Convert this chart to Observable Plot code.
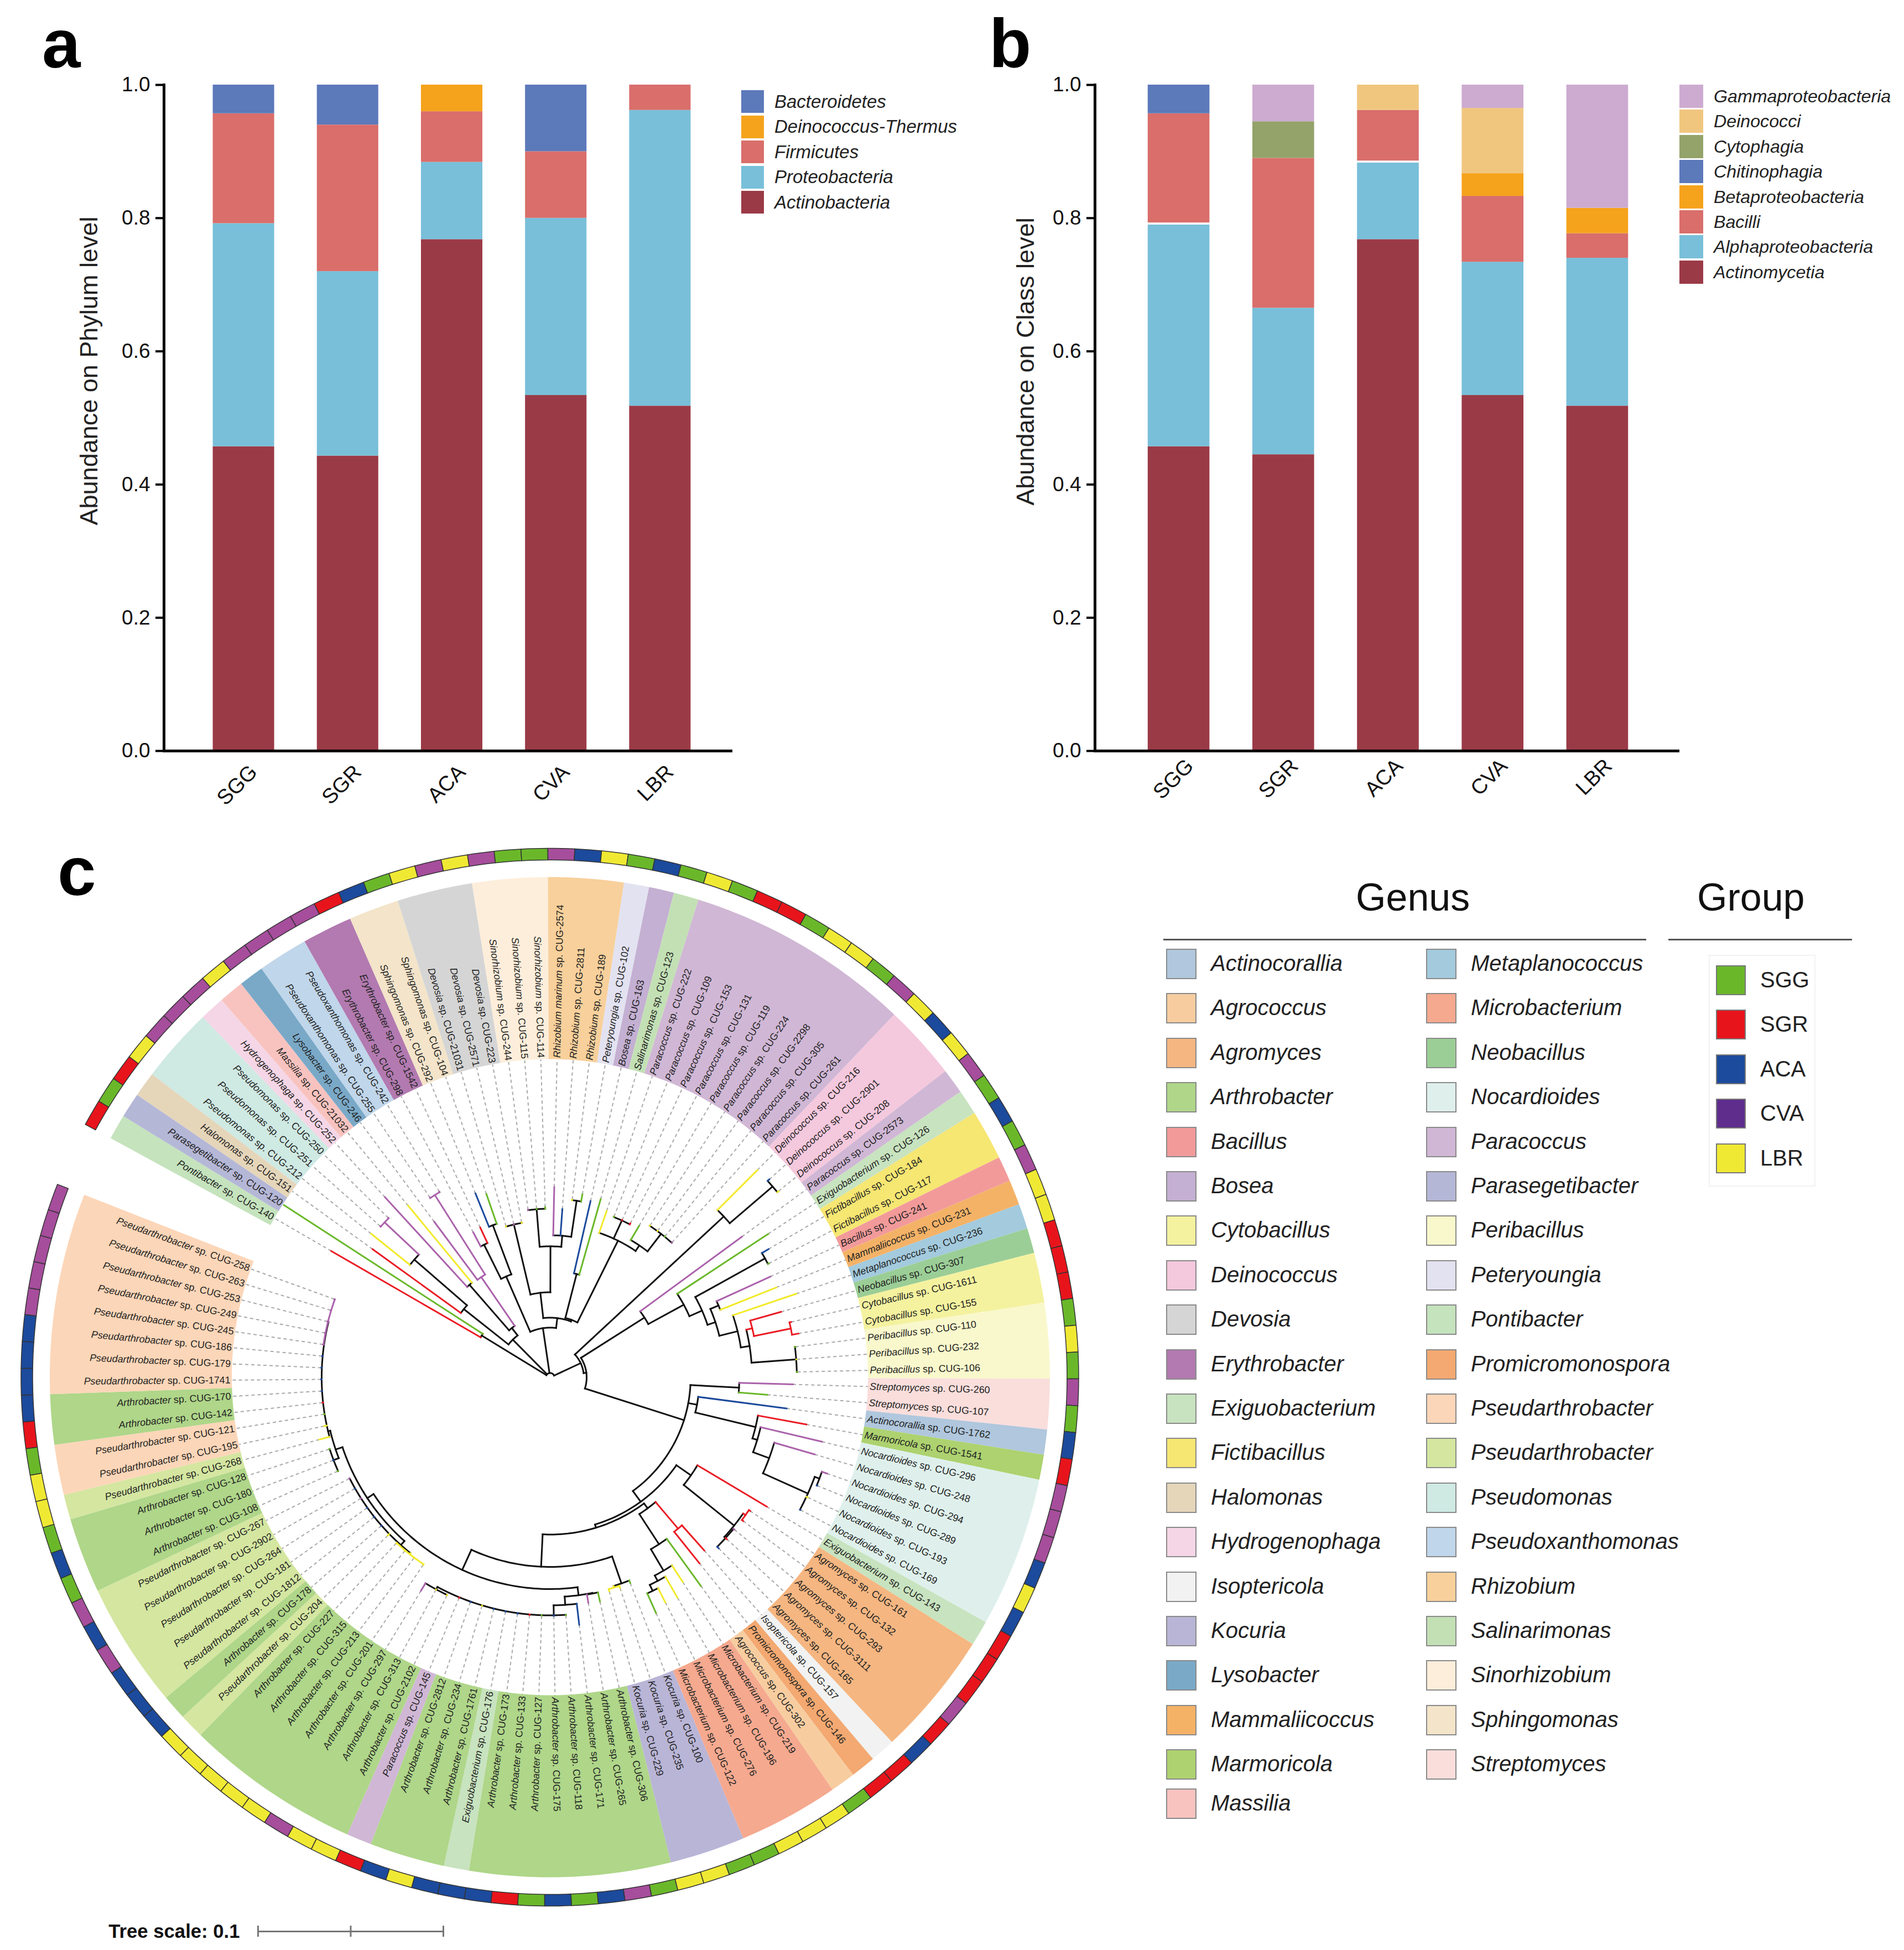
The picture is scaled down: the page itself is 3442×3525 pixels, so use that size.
<!DOCTYPE html>
<html><head><meta charset="utf-8">
<script src="https://cdn.jsdelivr.net/npm/d3@7"></script>
<script src="https://cdn.jsdelivr.net/npm/@observablehq/plot@0.6"></script>
<style>
html,body{margin:0;padding:0;background:#fff}
#page{position:relative;width:3442px;height:3525px;overflow:hidden;font-family:"Liberation Sans",Arial,sans-serif;color:#111}
#page svg{position:absolute}
.t{position:absolute;white-space:nowrap;transform:translateY(-50%)}
.s{position:absolute;box-sizing:border-box}
.panel{position:absolute;font-weight:bold;line-height:1;color:#000}
</style></head><body><div id="page"></div>
<script>
/* ---------- panels a, b ---------- */
const samples=["SGG","SGR","ACA","CVA","LBR"];
const actinobacteria=[.457,.443,.768,.534,.518];
const proteobacteria=[.335,.277,.116,.266,.444];
const firmicutes=[.165,.220,.076,.100,.038];
const deinococcusThermus=[0,0,.040,0,0];
const bacteroidetes=[.043,.060,0,.100,0];
const phylumNames=["Actinobacteria","Proteobacteria","Firmicutes","Deinococcus-Thermus","Bacteroidetes"];
const phylumValues=[actinobacteria,proteobacteria,firmicutes,deinococcusThermus,bacteroidetes];
const phylumColors=["#9b3a47","#79bfd9","#d96e6b","#f5a31c","#5c79ba"];

const actinomycetia=[.457,.445,.768,.534,.518];
const alphaproteobacteria=[.333,.220,.115,.200,.222];
const unassigned=[.003,0,.003,0,0];
const bacilli=[.164,.225,.076,.099,.037];
const betaproteobacteria=[0,0,0,.034,.038];
const chitinophagia=[.043,0,0,0,0];
const cytophagia=[0,.055,0,0,0];
const deinococci=[0,0,.038,.098,0];
const gammaproteobacteria=[0,.055,0,.035,.185];
const classNames=["Actinomycetia","Alphaproteobacteria","Unassigned","Bacilli","Betaproteobacteria","Chitinophagia","Cytophagia","Deinococci","Gammaproteobacteria"];
const classValues=[actinomycetia,alphaproteobacteria,unassigned,bacilli,betaproteobacteria,chitinophagia,cytophagia,deinococci,gammaproteobacteria];
const classColors=["#9b3a47","#79bfd9","#ffffff","#d96e6b","#f5a31c","#5c79ba","#94a36a","#f0c67f","#cdabd0"];

/* ---------- panel c ---------- */
const tipLabels=["Pontibacter sp. CUG-140","Parasegetibacter sp. CUG-120","Halomonas sp. CUG-151","Pseudomonas sp. CUG-212","Pseudomonas sp. CUG-251","Pseudomonas sp. CUG-250","Hydrogenophaga sp. CUG-252","Massilia sp. CUG-21032","Lysobacter sp. CUG-246","Pseudoxanthomonas sp. CUG-255","Pseudoxanthomonas sp. CUG-242","Erythrobacter sp. CUG-298","Erythrobacter sp. CUG-1542","Sphingomonas sp. CUG-292","Sphingomonas sp. CUG-104","Devosia sp. CUG-21031","Devosia sp. CUG-2571","Devosia sp. CUG-223","Sinorhizobium sp. CUG-244","Sinorhizobium sp. CUG-115","Sinorhizobium sp. CUG-114","Rhizobium marinum sp. CUG-2574","Rhizobium sp. CUG-2811","Rhizobium sp. CUG-189","Peteryoungia sp. CUG-102","Bosea sp. CUG-163","Salinarimonas sp. CUG-123","Paracoccus sp. CUG-222","Paracoccus sp. CUG-109","Paracoccus sp. CUG-153","Paracoccus sp. CUG-131","Paracoccus sp. CUG-119","Paracoccus sp. CUG-224","Paracoccus sp. CUG-2298","Paracoccus sp. CUG-305","Paracoccus sp. CUG-261","Deinococcus sp. CUG-216","Deinococcus sp. CUG-2901","Deinococcus sp. CUG-208","Paracoccus sp. CUG-2573","Exiguobacterium sp. CUG-126","Fictibacillus sp. CUG-184","Fictibacillus sp. CUG-117","Bacillus sp. CUG-241","Mammaliicoccus sp. CUG-231","Metaplanococcus sp. CUG-236","Neobacillus sp. CUG-307","Cytobacillus sp. CUG-1611","Cytobacillus sp. CUG-155","Peribacillus sp. CUG-110","Peribacillus sp. CUG-232","Peribacillus sp. CUG-106","Streptomyces sp. CUG-260","Streptomyces sp. CUG-107","Actinocorallia sp. CUG-1762","Marmoricola sp. CUG-1541","Nocardioides sp. CUG-296","Nocardioides sp. CUG-248","Nocardioides sp. CUG-294","Nocardioides sp. CUG-289","Nocardioides sp. CUG-193","Nocardioides sp. CUG-169","Exiguobacterium sp. CUG-143","Agromyces sp. CUG-161","Agromyces sp. CUG-132","Agromyces sp. CUG-293","Agromyces sp. CUG-3111","Agromyces sp. CUG-165","Isoptericola sp. CUG-157","Promicromonospora sp. CUG-146","Agrococcus sp. CUG-302","Microbacterium sp. CUG-219","Microbacterium sp. CUG-196","Microbacterium sp. CUG-276","Microbacterium sp. CUG-122","Kocuria sp. CUG-100","Kocuria sp. CUG-235","Kocuria sp. CUG-229","Arthrobacter sp. CUG-306","Arthrobacter sp. CUG-265","Arthrobacter sp. CUG-171","Arthrobacter sp. CUG-118","Arthrobacter sp. CUG-175","Arthrobacter sp. CUG-127","Arthrobacter sp. CUG-133","Arthrobacter sp. CUG-173","Exiguobacterium sp. CUG-176","Arthrobacter sp. CUG-1761","Arthrobacter sp. CUG-234","Arthrobacter sp. CUG-2812","Paracoccus sp. CUG-145","Arthrobacter sp. CUG-2102","Arthrobacter sp. CUG-313","Arthrobacter sp. CUG-297","Arthrobacter sp. CUG-201","Arthrobacter sp. CUG-213","Arthrobacter sp. CUG-315","Arthrobacter sp. CUG-227","Pseudarthrobacter sp. CUG-204","Arthrobacter sp. CUG-178","Pseudarthrobacter sp. CUG-1812","Pseudarthrobacter sp. CUG-181","Pseudarthrobacter sp. CUG-264","Pseudarthrobacter sp. CUG-2902","Pseudarthrobacter sp. CUG-267","Arthrobacter sp. CUG-108","Arthrobacter sp. CUG-180","Arthrobacter sp. CUG-128","Pseudarthrobacter sp. CUG-268","Pseudarthrobacter sp. CUG-195","Pseudarthrobacter sp. CUG-121","Arthrobacter sp. CUG-142","Arthrobacter sp. CUG-170","Pseudarthrobacter sp. CUG-1741","Pseudarthrobacter sp. CUG-179","Pseudarthrobacter sp. CUG-186","Pseudarthrobacter sp. CUG-245","Pseudarthrobacter sp. CUG-249","Pseudarthrobacter sp. CUG-253","Pseudarthrobacter sp. CUG-263","Pseudarthrobacter sp. CUG-258"];
const lightPseudarthrobacter=["CUG-204","CUG-1812","CUG-181","CUG-264","CUG-2902","CUG-267","CUG-268"];
const ringGroups=["SGR","SGG","SGR","LBR","CVA","CVA","CVA","LBR","CVA","CVA","CVA","CVA","SGR","ACA","SGG","LBR","CVA","LBR","CVA","SGG","SGG","CVA","ACA","LBR","SGG","ACA","SGG","LBR","SGG","SGR","SGR","SGG","LBR","LBR","SGG","CVA","LBR","ACA","LBR","CVA","SGG","ACA","SGG","CVA","LBR","LBR","SGR","SGR","SGR","SGG","LBR","SGG","CVA","SGG","ACA","SGR","CVA","CVA","CVA","ACA","LBR","ACA","SGR","SGR","SGR","CVA","SGR","ACA","SGR","SGR","SGG","LBR","LBR","LBR","SGG","SGG","LBR","LBR","SGG","CVA","ACA","SGG","ACA","SGG","SGR","ACA","ACA","ACA","LBR","ACA","SGR","LBR","LBR","CVA","LBR","LBR","LBR","LBR","LBR","ACA","ACA","ACA","CVA","ACA","CVA","SGG","ACA","SGG","LBR","LBR","SGG","SGR","ACA","ACA","ACA","ACA","CVA","CVA","CVA","CVA","CVA"];
const genusLegend1=["Actinocorallia","Agrococcus","Agromyces","Arthrobacter","Bacillus","Bosea","Cytobacillus","Deinococcus","Devosia","Erythrobacter","Exiguobacterium","Fictibacillus","Halomonas","Hydrogenophaga","Isoptericola","Kocuria","Lysobacter","Mammaliicoccus","Marmoricola","Massilia"];
const genusColors1=["#b0c7dd","#f7cda0","#f5b681","#afd689","#f29a9a","#c4b0d2","#f4f29f","#f4c8dd","#d5d5d5","#b27ab0","#c8e3bf","#f6e672","#e5d6ba","#f5d6e6","#f1f2f1","#b9b5d6","#7aa9c8","#f4b267","#add26f","#f8c3bf"];
const genusLegend2=["Metaplanococcus","Microbacterium","Neobacillus","Nocardioides","Paracoccus","Parasegetibacter","Peribacillus","Peteryoungia","Pontibacter","Promicromonospora","Pseudarthrobacter","Pseudarthrobacter","Pseudomonas","Pseudoxanthomonas","Rhizobium","Salinarimonas","Sinorhizobium","Sphingomonas","Streptomyces"];
const genusColors2=["#a3cadd","#f5a98f","#9bce96","#dff0ec","#d0b7d5","#b5b7d7","#f9f8cc","#e3e2f1","#c5e3bd","#f3a971","#fcd6b8","#d4e6a0","#cfe9e3","#c0d6ea","#f8d09b","#c3e0b5","#fdeedb","#f3e4ca","#f9dedc"];
const groupNames=["SGG","SGR","ACA","CVA","LBR"];
const groupLegendColors=["#6ab82a","#e8141c","#1c4a9c","#5f2d8c","#f0e934"];
const ringColors={SGG:"#6ab82a",SGR:"#e8141c",ACA:"#1c4a9c",CVA:"#a64d9c",LBR:"#f0e934"};
const branchColors={SGG:"#6ab82a",SGR:"#ea1c24",ACA:"#1c4a9c",CVA:"#ab62ab",LBR:"#f2ea2a"};

/* tree: [tip number, depth] or {d:depth, k:children}; depth unit: 335 units = tree scale 0.1 */
const scaleBarUnits=335;
const cladeA={d:145,k:[[1,457],[2,573]]};
const cladeB={d:96,k:[
  {d:199,k:[[3,396],{d:325,k:[[4,415],{d:410,c:"CVA",k:[[5,411],[6,411]]}]}]},
  {d:113,k:[{d:222,k:[[7,442],[8,403]]},{d:220,c:"CVA",k:[[9,351],{d:390,c:"CVA",k:[[10,391],[11,391]]}]}]}]};
const cladeI={d:199,k:[{d:268,k:[[12,297],[13,299]]},{d:294,k:[[14,359],[15,351]]}]};
const cladeK={d:154,k:[{d:284,k:[[16,285],[17,285],[18,285]]},
  {d:237,k:[{d:305,k:[[19,306],[20,306],[21,308]]},{d:257,k:[[22,344],[23,305],{d:323,k:[[24,324],[25,336]]}]}]}]};
const cladeL={d:193,k:[[26,327],[27,335]]};
const cladeM={d:276,k:[[28,318],{d:312,k:[[29,313],[30,313],[31,314]]},{d:288,k:[[32,318],{d:328,k:[[33,329],[34,329],[35,329],[36,329]]}]}]};
const cladeH={d:90,k:[cladeI,{d:108,k:[cladeK,{d:111,k:[cladeL,cladeM]}]}]};
const cladeAB={d:428,k:[[37,530],{d:530,k:[[38,534],[39,533]]}]};
const cladeAD={d:202,k:[[40,430],{d:275,k:[[41,472],{d:300,k:[{d:444,k:[[42,458],[43,446]]},{d:315,k:[{d:331,k:[[44,438],[45,440]]},{d:349,k:[[46,470],{d:365,k:[{d:376,c:"SGR",k:[[47,434],{d:444,c:"SGR",k:[[48,447],[49,456]]}]},{d:446,k:[[50,447],[51,447],[52,447]]}]}]}]}]}]}]};
const cladeBG={d:342,k:[[53,439],[54,394]]};
const cladeBE={d:270,k:[[55,431],{d:382,k:[[56,471],{d:391,k:[[57,505],{d:422,k:[[58,498],{d:511,k:[{d:520,k:[[59,530],[60,521]]},[61,514],[62,512]]}]}]}]}]};
const cladeBI={d:310,k:[[63,456],{d:427,k:[{d:432,c:"SGR",k:[[64,435],[65,435]]},{d:430,k:[[66,432],[67,433],[68,434]]}]}]};
const cladeBK={d:295,k:[{d:358,c:"SGR",k:[[69,419],[70,431]]},{d:360,k:[[71,465],{d:405,k:[[72,441],{d:416,k:[[73,460],{d:428,k:[[74,457],[75,467]]}]}]}]}]};
const cladeCC={d:394,k:[[76,399],{d:397,c:"LBR",k:[[77,401],[78,401]]}]};
const cladeCF={d:397,k:[{d:398,k:[[79,415],[80,413]]},{d:412,k:[[81,450],{d:430,a:83,k:[[82,431],[83,431],[84,431],[85,431],[86,431],[87,431],[88,431],[89,431],[90,431],[91,431],{d:435,k:[[92,436],[93,436],[94,451]]}]}]}]};
const cladeZeta={d:405.7,a:97.6,k:[{d:408,c:"LBR",k:[[95,409],[96,409],[97,409],[98,409]]},[99,410],[100,406.5],[101,406.5],[102,406.5],[103,406.5],[104,406.5],[105,406.5]]};
const cladeEps={d:409,a:107.8,k:[{d:419,k:[[106,420],[107,420],[108,420]]},{d:413,a:109.5,k:[[109,432],[110,418],[111,414],[112,414],[113,414],[114,414],[115,414],[116,414],{d:414,c:"CVA",k:[[117,415],[118,415],[119,415],[120,415],[121,415]]}]}]};
const cladeBH={d:278,k:[cladeBI,{d:284,k:[cladeBK,{d:342.5,k:[cladeCC,{d:382.5,k:[cladeCF,{d:396,k:[cladeZeta,cladeEps]}]}]}]}]};
const cladeBA={d:61,k:[cladeAB,{d:66,k:[cladeAD,{d:254,a:58.5,k:[cladeBG,cladeBE,cladeBH]}]}]};
const treeRoot={d:8,k:[cladeA,cladeB,cladeH,cladeBA]};

/* ---------- layout constants ---------- */
const FONT='"Liberation Sans",Arial,sans-serif';
const startAngle=-61.45, stepAngle=2.916;
const wedgeInner=575, wedgeOuter=904, ringInner=935, ringOuter=956;
const rad=a=>a*Math.PI/180;
const angleAt=p=>startAngle+(p-.5)*stepAngle;
const polar=(d,a)=>({x:d*Math.sin(rad(a)),y:d*Math.cos(rad(a))});
const page=document.getElementById("page");

function stackedChart(names,values,colors,yLabel,o){
  const rows=names.flatMap((n,s)=>samples.map((g,j)=>({g,name:n,v:values[s][j]})));
  const svg=Plot.plot({width:o.width,height:1480,marginTop:153,marginBottom:123,marginLeft:o.left,marginRight:o.right,
    style:{background:"transparent",fontFamily:FONT},
    x:{type:"band",domain:samples,range:o.range,paddingInner:.41,paddingOuter:.205,round:false,label:null},
    y:{domain:[0,1],label:null},
    color:{domain:names,range:colors},
    marks:[
      Plot.barY(rows,{x:"g",y:"v",fill:"name"}),
      Plot.axisY({ticks:[0,.2,.4,.6,.8,1],tickFormat:".1f",tickSize:15,tickPadding:10,fontSize:37,strokeWidth:4,stroke:"#000",fill:"#111",label:null}),
      Plot.axisX({tickRotate:-45,tickSize:0,tickPadding:o.tickPad,dx:o.tickDx,fontSize:38,fill:"#111",label:null}),
      Plot.frame({anchor:"left",stroke:"#000",strokeWidth:5}),
      Plot.frame({anchor:"bottom",stroke:"#000",strokeWidth:5}),
      Plot.text([yLabel],{frameAnchor:"left",textAnchor:"middle",dx:o.labelDx,dy:o.labelDy,rotate:-90,fontSize:45,fill:"#222"})
    ]});
  svg.style.left=o.x+"px";svg.style.top="0px";
  page.appendChild(svg);
}
stackedChart(phylumNames,phylumValues,phylumColors,"Abundance on Phylum level",{x:0,width:1700,left:296,right:379,range:[346,1287],labelDx:-135,labelDy:-85,tickPad:32,tickDx:18});
stackedChart(classNames,classValues,classColors,"Abundance on Class level",{x:1700,width:1742,left:279,right:409,range:[336,1282],labelDx:-125,labelDy:-102,tickPad:21,tickDx:20});

/* ---------- tree geometry from the data ---------- */
function pos(n){
  if(Array.isArray(n)){return n[0];}
  n.k.forEach(pos);
  const f=n.k[0],l=n.k[n.k.length-1];
  const pf=Array.isArray(f)?f[0]:f.p, pl=Array.isArray(l)?l[0]:l.p;
  n.pf=pf;n.pl=pl;
  n.p=n.a!==undefined?n.a:(pf+pl)/2;
  return n.p;
}
pos(treeRoot);
const segs=[],tips=[];let sid=0;
function addStem(d0,d1,a,color){const id=sid++;for(const d of [d0,d1]){const q=polar(d,a);segs.push({id,x:q.x,y:q.y,color});}}
function addArc(d,a0,a1,color){const id=sid++;const n=Math.max(2,Math.ceil(Math.abs(a1-a0))+1);for(let j=0;j<n;j++){const q=polar(d,a0+(a1-a0)*j/(n-1));segs.push({id,x:q.x,y:q.y,color});}}
function walk(n,parentD){
  if(Array.isArray(n)){
    const a=angleAt(n[0]);
    addStem(parentD,n[1],a,branchColors[ringGroups[n[0]-1]]);
    tips.push({i:n[0],d:n[1],a});
    return;
  }
  const col=n.c?branchColors[n.c]:"#111";
  const a=angleAt(n.p);
  if(n!==treeRoot)addStem(parentD,n.d,a,col);
  addArc(n.d,angleAt(n.pf),angleAt(n.pl),col);
  n.k.forEach(k=>walk(k,n.d));
}
walk(treeRoot,treeRoot.d);
segs.sort((p,q)=>(p.color==="#111"?0:1)-(q.color==="#111"?0:1));

const colorOf={};
genusLegend1.forEach((g,j)=>colorOf[g]=genusColors1[j]);
genusLegend2.forEach((g,j)=>{if(j!==11)colorOf[g]=genusColors2[j];});
function tipColor(label){
  const genus=label.split(" ")[0];
  if(genus==="Pseudarthrobacter"&&lightPseudarthrobacter.includes(label.split(" ").pop()))return genusColors2[11];
  return colorOf[genus];
}
/* wedges: contiguous tips with the same colour form one band */
const bands=[];
tipLabels.forEach((t,j)=>{const c=tipColor(t);const last=bands[bands.length-1];if(last&&last.c===c)last.e=j+1;else bands.push({c,s:j+1,e:j+1});});
function bandPoints(list,inner,outer){
  const pts=[];
  list.forEach((b,id)=>{
    const a0=startAngle+(b.s-1)*stepAngle,a1=startAngle+b.e*stepAngle;
    const n=Math.ceil(a1-a0)+1;
    for(let j=0;j<=n;j++){const a=a0+(a1-a0)*j/n;const p=polar(inner,a),q=polar(outer,a);pts.push({id,x1:p.x,y1:p.y,x2:q.x,y2:q.y,c:b.c});}
  });
  return pts;
}
const wedgePts=bandPoints(bands,wedgeInner,wedgeOuter);
const ringPts=bandPoints(ringGroups.map((g,j)=>({c:ringColors[g],s:j+1,e:j+1})),ringInner,ringOuter);
const dots=tips.map(t=>{const p=polar(t.d,t.a),q=polar(wedgeInner,t.a);return {x1:p.x,y1:p.y,x2:q.x,y2:q.y};});
const labelsAll=tipLabels.map((label,j)=>{const a=angleAt(j+1);const p=polar(wedgeInner+3,a);const right=a<180&&a>=0;return {label,x:p.x,y:p.y,rot:right?a-90:a+90,right};});
const barX0=-528,barY=-1001.5;
const barTicks=[0,.5,1];

const tree=Plot.plot({width:2050,height:2025,margin:0,
  style:{background:"transparent",fontFamily:FONT},
  x:{domain:[-994,1056],range:[0,2050],axis:null},
  y:{domain:[989.5,-1035.5],range:[0,2025],axis:null},
  marks:[
    Plot.area(wedgePts,{x1:"x1",y1:"y1",x2:"x2",y2:"y2",z:"id",fill:{value:"c",scale:null}}),
    Plot.link(dots,{x1:"x1",y1:"y1",x2:"x2",y2:"y2",stroke:"#aaa",strokeWidth:2,strokeDasharray:"6 5"}),
    Plot.area(ringPts,{x1:"x1",y1:"y1",x2:"x2",y2:"y2",z:"id",fill:{value:"c",scale:null},stroke:"#333",strokeWidth:1.5}),
    Plot.line(segs,{x:"x",y:"y",z:"id",stroke:{value:"color",scale:null},strokeWidth:3,strokeLinecap:"square"}),
    Plot.text(labelsAll.filter(d=>d.right),{x:"x",y:"y",text:"label",rotate:"rot",textAnchor:"start",fontSize:17.8,fill:"#222",className:"tiplabel"}),
    Plot.text(labelsAll.filter(d=>!d.right),{x:"x",y:"y",text:"label",rotate:"rot",textAnchor:"end",fontSize:17.8,fill:"#222",className:"tiplabel"}),
    Plot.ruleY([barY],{x1:barX0,x2:barX0+scaleBarUnits,stroke:"#777",strokeWidth:3}),
    Plot.ruleX(barTicks,{x:f=>barX0+f*scaleBarUnits,y1:barY-(10),y2:barY+(10),stroke:"#777",strokeWidth:3}),
    Plot.text(["Tree scale: 0.1"],{x:[barX0-33],y:[barY],text:d=>d,textAnchor:"end",fontSize:34.7,fontWeight:"bold",fill:"#111"})
  ]});
tree.style.left="0px";tree.style.top="1500px";
tree.querySelectorAll(".tiplabel text").forEach(el=>{
  const s=el.textContent,k=s.indexOf(" sp.");
  el.textContent="";
  const ns="http://www.w3.org/2000/svg";
  const a=document.createElementNS(ns,"tspan");a.setAttribute("font-style","italic");a.textContent=s.slice(0,k);
  const b=document.createElementNS(ns,"tspan");b.textContent=s.slice(k);
  el.append(a,b);
});
page.appendChild(tree);

/* ---------- text and legends ---------- */
function txt(s,x,y,size,extra){const e=document.createElement("div");e.className="t";e.textContent=s;e.style.cssText+=`left:${x}px;top:${y}px;font-size:${size}px;`+(extra||"");page.appendChild(e);return e;}
function sw(x,y,w,h,c,b){const e=document.createElement("div");e.className="s";e.style.cssText+=`left:${x}px;top:${y}px;width:${w}px;height:${h}px;background:${c};`+(b?`border:2px solid ${b};`:"");page.appendChild(e);}
function panel(s,x,base,size){const e=document.createElement("div");e.className="panel";e.textContent=s;e.style.cssText+=`left:${x}px;top:${base-size*.8465}px;font-size:${size}px;`;page.appendChild(e);}
panel("a",76,122,125);panel("b",1788,121,125);panel("c",104,1618,125);

["Bacteroidetes","Deinococcus-Thermus","Firmicutes","Proteobacteria","Actinobacteria"].forEach((n,j)=>{
  sw(1340,163+j*45.5,41,41,phylumColors[phylumNames.indexOf(n)]);
  txt(n,1400,183.5+j*45.5,33,"font-style:italic;color:#222;");
});
["Gammaproteobacteria","Deinococci","Cytophagia","Chitinophagia","Betaproteobacteria","Bacilli","Alphaproteobacteria","Actinomycetia"].forEach((n,j)=>{
  sw(3036,153+j*45.4,43,42,classColors[classNames.indexOf(n)]);
  txt(n,3098,174+j*45.4,32.2,"font-style:italic;color:#222;");
});
txt("Genus",2554-103,1622,70);
txt("Group",3068,1622,70);
sw(2103,1697,873,3,"#555");sw(3016,1697,332,3,"#555");
function genusRow(n,c,x,y){sw(x,y,55,55,c,"#8a8a8a");txt(n,x+81,y+26,40,"font-style:italic;color:#222;");}
genusLegend1.forEach((n,j)=>genusRow(n,genusColors1[j],2108,j===19?3233:1715+j*80.4));
genusLegend2.forEach((n,j)=>genusRow(n,genusColors2[j],2578,1715+j*80.4));
sw(3089,1726,193,419,"transparent","#f2f2f2");
groupNames.forEach((n,j)=>{sw(3102,1745+j*80.4,54,54,groupLegendColors[j],"#777");txt(n,3182,1771+j*80.4,40,"color:#222;");});
</script></body></html>
